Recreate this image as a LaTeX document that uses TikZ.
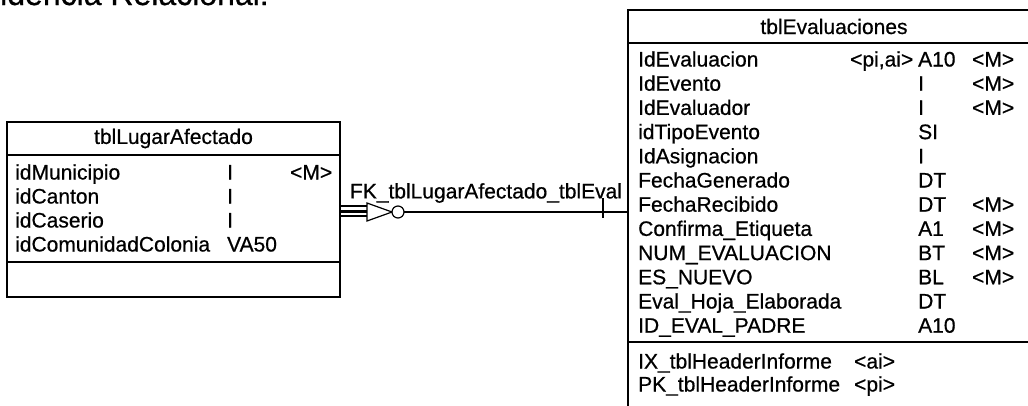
\documentclass[tikz,border=0pt]{standalone}
\usepackage{fontspec}
\setmainfont{Liberation Sans}[FakeBold=0.6]
\usetikzlibrary{positioning,calc}

% one line of a table: name, key, type, mandatory
\newcommand{\evalrow}[4]{\makebox[212pt][l]{#1}\makebox[68pt][l]{#2}\makebox[54pt][l]{#3}#4}
\newcommand{\lugarrow}[3]{\makebox[212pt][l]{#1}\makebox[63pt][l]{#2}#3}

\begin{document}
\begin{tikzpicture}[x=1pt,y=-1pt,
  tbl/.style={draw,line width=1.2pt,outer sep=0pt,inner sep=0pt,
              font=\fontsize{21}{24}\selectfont},
  fld/.style={anchor=base west,inner sep=0pt,font=\fontsize{21}{24}\selectfont},
  rel/.style={line width=1.2pt},
  lbl/.style={font=\fontsize{21}{24}\selectfont,inner sep=1pt}
]
\useasboundingbox (0,0) rectangle (1028,405);

% Title (cut by the top edge)
\node[anchor=base west,inner sep=0pt,font=\fontsize{32}{36}\selectfont] (titulo) at (0,5) {idencia Relacional:};

% Left table: tblLugarAfectado
\node[tbl,minimum width=333pt,minimum height=33pt] (lugarhead) at (173.5,138.5) {tblLugarAfectado};
\node[tbl,minimum width=333pt,minimum height=107pt,below=0pt of lugarhead] (lugarattr) {};
\node[tbl,minimum width=333pt,minimum height=35pt,below=0pt of lugarattr] (lugaridx) {};
\node[fld] (l1) at (15,179.5) {\lugarrow{idMunicipio}{I}{<M>}};
\node[fld] (l2) at (15,203.5) {\lugarrow{idCanton}{I}{}};
\node[fld] (l3) at (15,227.5) {\lugarrow{idCaserio}{I}{}};
\node[fld] (l4) at (15,251.5) {\lugarrow{idComunidadColonia}{VA50}{}};

% Right table: tblEvaluaciones (right side and bottom cut by the frame)
\node[tbl,minimum width=412pt,minimum height=33pt] (evalhead) at (834,26.5) {tblEvaluaciones};
\node[tbl,minimum width=412pt,minimum height=299pt,below=0pt of evalhead] (evalattr) {};
\node[tbl,minimum width=412pt,minimum height=78pt,below=0pt of evalattr] (evalidx) {};
\node[fld] (e1)  at (638,66.5)  {\evalrow{IdEvaluacion}{<pi,ai>}{A10}{<M>}};
\node[fld] (e2)  at (638,90.7)  {\evalrow{IdEvento}{}{I}{<M>}};
\node[fld] (e3)  at (638,114.9) {\evalrow{IdEvaluador}{}{I}{<M>}};
\node[fld] (e4)  at (638,139.1) {\evalrow{idTipoEvento}{}{SI}{}};
\node[fld] (e5)  at (638,163.3) {\evalrow{IdAsignacion}{}{I}{}};
\node[fld] (e6)  at (638,187.5) {\evalrow{FechaGenerado}{}{DT}{}};
\node[fld] (e7)  at (638,211.7) {\evalrow{FechaRecibido}{}{DT}{<M>}};
\node[fld] (e8)  at (638,235.9) {\evalrow{Confirma\_Etiqueta}{}{A1}{<M>}};
\node[fld] (e9)  at (638,260.1) {\evalrow{NUM\_EVALUACION}{}{BT}{<M>}};
\node[fld] (e10) at (638,284.3) {\evalrow{ES\_NUEVO}{}{BL}{<M>}};
\node[fld] (e11) at (638,308.5) {\evalrow{Eval\_Hoja\_Elaborada}{}{DT}{}};
\node[fld] (e12) at (638,332.7) {\evalrow{ID\_EVAL\_PADRE}{}{A10}{}};
\node[fld] (i1)  at (638,368.5) {\makebox[216pt][l]{IX\_tblHeaderInforme}<ai>};
\node[fld] (i2)  at (638,391.5) {\makebox[216pt][l]{PK\_tblHeaderInforme}<pi>};

% Reference FK_tblLugarAfectado_tblEval
\coordinate (fkrow) at (0,212);
\coordinate (fksrc) at (lugarattr.east |- fkrow);
\coordinate (fkdst) at (evalattr.west |- fkrow);
\draw[rel] (fksrc) -- (fkdst);
\node[lbl] (fklbl) at (486,193) {FK\_tblLugarAfectado\_tblEval};
% many end (left), one end (right)
\begin{scope}[shift={(fksrc)}]
  \draw[rel] (0,-6) -- (27,-6) (0,-1) -- (27,-1) (0,4) -- (27,4);
  \draw[rel,fill=white] (27,-9) -- (52,0) -- (27,9) -- cycle;
  \draw[rel,fill=white] (58,0) circle (6pt);
\end{scope}
\draw[rel] ($(fkdst)+(-25,-14)$) -- ($(fkdst)+(-25,6)$);
\end{tikzpicture}
\end{document}
